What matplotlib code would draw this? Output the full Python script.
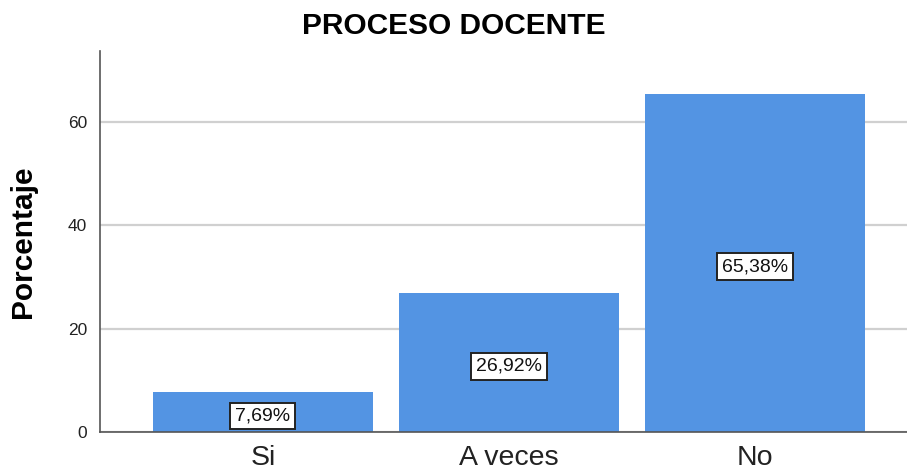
import matplotlib
matplotlib.use("Agg")
import matplotlib.pyplot as plt

CATEGORIES = ["Si", "A veces", "No"]
PERCENTS = [7.69, 26.92, 65.38]
LABELS = ["7,69%", "26,92%", "65,38%"]
TITLE = "PROCESO DOCENTE"
Y_LABEL = "Porcentaje"
Y_TICKS = [0, 20, 40, 60]

plt.rcParams["font.family"] = ["Liberation Sans", "DejaVu Sans"]

fig = plt.figure(figsize=(9.07, 4.76), dpi=100)
ax = fig.add_axes([0.110, 0.092, 0.890, 0.801])

x = range(len(CATEGORIES))
ax.bar(x, PERCENTS, width=0.894, color="#5394e3", zorder=2)
for xi, value, text in zip(x, PERCENTS, LABELS):
    ax.text(xi, value / 2 - 0.7, text, ha="center", va="center", fontsize=14, color="#111111", zorder=3,
            bbox={"boxstyle": "square,pad=0.25", "facecolor": "white", "edgecolor": "#222222", "linewidth": 1.4})

ax.set_xlim(-0.663, 2.618)
ax.set_ylim(0, 73.7)
ax.set_yticks(Y_TICKS)
ax.set_xticks(list(x), CATEGORIES)
ax.tick_params(axis="y", length=0, labelsize=12.5, pad=9, labelcolor="#222222")
ax.tick_params(axis="x", length=0, labelsize=20.5, pad=9, labelcolor="#222222")
ax.yaxis.grid(True, color="#d0d0d0", linewidth=1.6, zorder=0)
ax.set_axisbelow(True)
for side in ("top", "right"):
    ax.spines[side].set_visible(False)
for side in ("left", "bottom"):
    ax.spines[side].set_color("#555555")
    ax.spines[side].set_linewidth(1.2)

ax.set_ylabel(Y_LABEL, fontsize=21.5, fontweight="bold", labelpad=22)
fig.suptitle(TITLE, fontsize=21.5, fontweight="bold", y=0.975)

fig.savefig("out.png", dpi=100)
